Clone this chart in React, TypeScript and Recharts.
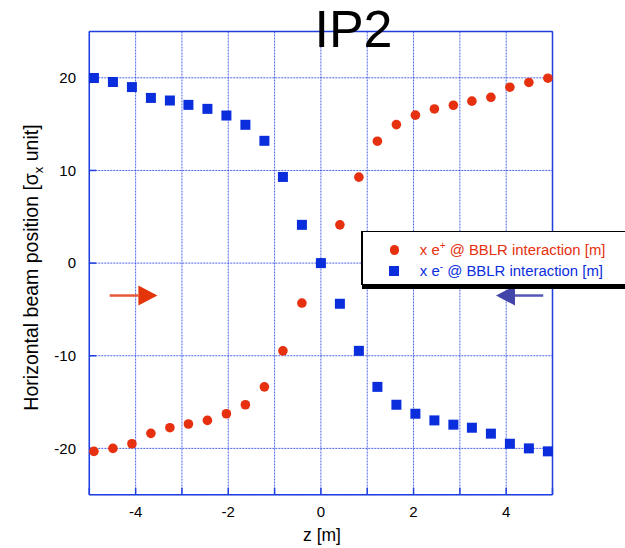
import React from 'react';
import {
  ScatterChart, Scatter, XAxis, YAxis, CartesianGrid, Legend, ReferenceLine, Label,
} from 'recharts';

// bunch positions along the beam line [m]
const zCoords = [
  -4.9, -4.49, -4.08, -3.67, -3.26, -2.86, -2.45, -2.04, -1.63, -1.22, -0.82, -0.41,
  0,
  0.41, 0.82, 1.22, 1.63, 2.04, 2.45, 2.86, 3.26, 3.67, 4.08, 4.49, 4.9,
];

// horizontal offset in sigma_x units
const ePlus = [
  -20.32, -20.0, -19.5, -18.38, -17.77, -17.37, -16.98, -16.26, -15.29, -13.36, -9.47, -4.31,
  0,
  4.13, 9.28, 13.16, 14.95, 15.97, 16.64, 17.04, 17.48, 17.9, 18.99, 19.5, 19.96,
];
const eMinus = [
  19.98, 19.55, 19.0, 17.83, 17.55, 17.08, 16.65, 15.93, 14.93, 13.2, 9.3, 4.13,
  0,
  -4.39, -9.47, -13.36, -15.29, -16.26, -16.98, -17.44, -17.77, -18.41, -19.5, -20.0, -20.32,
];

const xTicks = [-5, -4, -3, -2, -1, 0, 1, 2, 3, 4, 5];
const xLabelTicks = [-4, -2, 0, 2, 4];
const yTicks = [-20, -10, 0, 10, 20];

const RED = '#e6300f';
const BLUE = '#0a2edc';
const AXIS = '#1f3fe0';
const FONT = '"Liberation Sans", Arial, sans-serif';

const plusData = zCoords.map((z, i) => ({ z, y: ePlus[i] }));
const minusData = zCoords.map((z, i) => ({ z, y: eMinus[i] }));

const Arrow = (color: string, lineColor: string) => (props: any) => {
  const { x1, y1, x2, y2 } = props;
  const dir = x2 > x1 ? 1 : -1;
  const head = 19;
  const baseX = x2 - dir * head;
  return (
    <g>
      <line x1={x1} y1={y1} x2={baseX} y2={y2} stroke={lineColor} strokeWidth={2.5} />
      <polygon points={`${x2},${y2} ${baseX},${y2 - 10} ${baseX},${y2 + 10}`} fill={color} />
    </g>
  );
};

const LegendBox = (props: any) => {
  const items = props.payload || [];
  return (
    <div
      style={{
        width: 280,
        height: 54,
        boxSizing: 'border-box',
        background: '#fff',
        border: '1px solid #000',
        borderLeft: '2px solid #000',
        boxShadow: '1px 4px 0 #000',
        paddingTop: 8,
        fontFamily: FONT,
        fontSize: 14.9,
      }}
    >
      {items.map((it: any, i: number) => (
        <div key={i} style={{ display: 'flex', alignItems: 'center', height: 20.4 }}>
          <span
            style={{
              display: 'inline-block',
              marginLeft: i === 0 ? 26.8 : 26.3,
              width: i === 0 ? 9.5 : 10,
              height: i === 0 ? 9.5 : 10,
              borderRadius: i === 0 ? '50%' : 0,
              background: it.color,
            }}
          />
          <span style={{ marginLeft: 20.5, color: it.color, whiteSpace: 'nowrap' }}>
            x e<sup style={{ fontSize: 10, verticalAlign: 6, lineHeight: 0 }}>{i === 0 ? '+' : '-'}</sup> @ BBLR interaction [m]
          </span>
        </div>
      ))}
    </div>
  );
};

export default function App() {
  return (
    <div style={{ position: 'absolute', left: 0, top: 0, width: 625, height: 548, overflow: 'hidden', background: '#fff' }}>
      <ScatterChart
        width={625}
        height={548}
        margin={{ top: 30.5, right: 71.5, bottom: 23.3, left: 29.3 }}
        style={{ fontFamily: FONT }}
      >
        <CartesianGrid
          stroke={AXIS}
          strokeOpacity={0.8}
          strokeDasharray="2 1"
        />
        <XAxis
          dataKey="z"
          type="number"
          domain={[-5, 5]}
          ticks={xTicks}
          interval={0}
          height={30}
          tickSize={-7}
          tickMargin={18.7}
          tickFormatter={(v: number) => (xLabelTicks.includes(v) ? String(v) : '')}
          tick={{ fill: '#000', fontSize: 15 }}
          axisLine={{ stroke: AXIS, strokeWidth: 1.5 }}
          tickLine={{ stroke: AXIS, strokeWidth: 1.5 }}
        >
          <Label
            content={() => (
              <text x={322} y={541} textAnchor="middle" fontSize={17.5} fill="#000" fontFamily={FONT}>
                z [m]
              </text>
            )}
          />
        </XAxis>
        <XAxis
          xAxisId="top"
          orientation="top"
          type="number"
          domain={[-5, 5]}
          ticks={xTicks}
          interval={0}
          height={1}
          tickSize={-7}
          tickFormatter={() => ''}
          axisLine={{ stroke: AXIS, strokeWidth: 1.5 }}
          tickLine={{ stroke: AXIS, strokeWidth: 1.5 }}
        />
        <YAxis
          dataKey="y"
          type="number"
          domain={[-25, 25]}
          ticks={yTicks}
          interval={0}
          width={60}
          tickSize={-7}
          tickMargin={20.3}
          tick={{ fill: '#000', fontSize: 15 }}
          axisLine={{ stroke: AXIS, strokeWidth: 1.5 }}
          tickLine={{ stroke: AXIS, strokeWidth: 1.5 }}
        >
          <Label
            content={() => (
              <text
                x={38.3}
                y={267.5}
                transform="rotate(-90 38.3 267.5)"
                textAnchor="middle"
                fontSize={19.5}
                fill="#000"
                fontFamily={FONT}
              >
                Horizontal beam position [σ
                <tspan dy={5} fontSize={13}>x</tspan>
                <tspan dy={-5}> unit]</tspan>
              </text>
            )}
          />
        </YAxis>
        <YAxis
          yAxisId="right"
          orientation="right"
          type="number"
          domain={[-25, 25]}
          ticks={yTicks}
          interval={0}
          width={1}
          tickSize={-7}
          tickFormatter={() => ''}
          axisLine={{ stroke: AXIS, strokeWidth: 1.5 }}
          tickLine={{ stroke: AXIS, strokeWidth: 1.5 }}
        />
        <ReferenceLine
          segment={[{ x: -4.56, y: -3.5 }, { x: -3.53, y: -3.5 }]}
          shape={Arrow('#e3340a', '#e8583a')}
        />
        <ReferenceLine
          segment={[{ x: 4.8, y: -3.5 }, { x: 3.78, y: -3.5 }]}
          shape={Arrow('#4346a8', '#5558b4')}
        />
        <Scatter
          name="x e+ @ BBLR interaction [m]"
          data={plusData}
          fill={RED}
          isAnimationActive={false}
          shape={(p: any) => <circle cx={p.cx} cy={p.cy} r={4.8} fill={RED} />}
        />
        <Scatter
          name="x e- @ BBLR interaction [m]"
          data={minusData}
          fill={BLUE}
          isAnimationActive={false}
          shape={(p: any) => <rect x={p.cx - 5} y={p.cy - 5} width={10} height={10} fill={BLUE} />}
        />
        <Legend
          layout="vertical"
          align="center"
          verticalAlign="middle"
          content={LegendBox}
          wrapperStyle={{ left: 361, top: 231, width: 280 }}
        />
      </ScatterChart>
      <div
        style={{
          position: 'absolute',
          left: 253.5,
          width: 200,
          top: 3.4,
          textAlign: 'center',
          fontFamily: FONT,
          fontSize: 52,
          lineHeight: '52px',
          color: '#000',
        }}
      >
        IP2
      </div>
    </div>
  );
}
